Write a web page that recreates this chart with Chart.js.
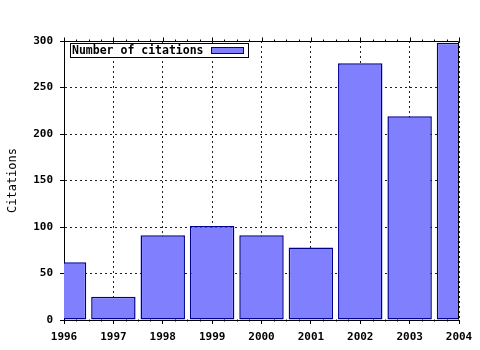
<!DOCTYPE html>
<html><head><meta charset="utf-8">
<script src="https://cdn.jsdelivr.net/npm/chart.js@4.4.1/dist/chart.umd.min.js"></script>
<style>html,body{margin:0;padding:0;background:#fff}</style>
</head><body>
<canvas id="c" width="480" height="350"></canvas>
<script>
const years = [1996, 1997, 1998, 1999, 2000, 2001, 2002, 2003, 2004];
const citations = [62, 25, 91, 101, 91, 78, 276, 219, 298];
const xTickLabels = ['1996', '1997', '1998', '1999', '2000', '2001', '2002', '2003', '2004'];
const yTickLabels = ['0', '50', '100', '150', '200', '250', '300'];
const seriesLabel = 'Number of citations';
const yTitle = 'Citations';

const FONT = '"DejaVu Sans Mono", "Liberation Mono", monospace';
const FILL = '#8080ff';
const EDGE = '#000090';

const framePlugin = {
  id: 'frame',
  afterDatasetsDraw(chart) {
    const ctx = chart.ctx, a = chart.chartArea, xs = chart.scales.x;
    ctx.save();
    ctx.strokeStyle = '#000';
    ctx.lineWidth = 1;
    ctx.setLineDash([]);
    ctx.beginPath();
    const L = Math.round(a.left) + 0.5, R = Math.round(a.right) - 0.5;
    const T = Math.round(a.top) + 0.5, B = Math.round(a.bottom) - 0.5;
    ctx.moveTo(L, T); ctx.lineTo(R, T); ctx.lineTo(R, B);
    for (let v = xs.min; v <= xs.max + 1e-9; v += 0.25) {
      const px = Math.round(xs.getPixelForValue(v)) + 0.5;
      const isMajor = Math.abs(v - Math.round(v)) < 1e-9;
      ctx.moveTo(px, T); ctx.lineTo(px, T - (isMajor ? 4 : 2));
      if (!isMajor) { ctx.moveTo(px, B); ctx.lineTo(px, B + 2); }
    }
    ctx.stroke();
    const ds = chart.data.datasets[0];
    ctx.font = 'bold 11.5px ' + FONT;
    ctx.fillStyle = '#fff';
    ctx.fillRect(70.5, 43.5, 178, 14);
    ctx.strokeRect(70.5, 43.5, 178, 14);
    ctx.fillStyle = '#000';
    ctx.textBaseline = 'middle';
    ctx.textAlign = 'left';
    ctx.fillText(ds.label, 72, 51);
    ctx.fillStyle = ds.backgroundColor;
    ctx.fillRect(211.5, 47.5, 32, 6);
    ctx.strokeStyle = ds.borderColor;
    ctx.strokeRect(211.5, 47.5, 32, 6);
    ctx.restore();
  }
};

new Chart(document.getElementById('c'), {
  type: 'bar',
  data: {
    datasets: [{
      label: seriesLabel,
      data: years.map((y, i) => ({ x: y, y: citations[i] })),
      backgroundColor: FILL,
      borderColor: EDGE,
      borderWidth: 1.5,
      borderSkipped: false,
      barPercentage: 0.9,
      categoryPercentage: 1.0
    }]
  },
  options: {
    responsive: false,
    animation: false,
    devicePixelRatio: 1,
    layout: { padding: { top: 41, right: 21, left: 0, bottom: 0 } },
    plugins: { legend: { display: false }, tooltip: { enabled: false } },
    scales: {
      x: {
        type: 'linear',
        min: 1996, max: 2004,
        offset: false,
        afterFit(s) { s.height = 30; },
        grid: {
          offset: false,
          color: '#222',
          tickColor: '#000',
          tickBorderDash: [],
          tickLength: 4
        },
        border: { display: true, color: '#000', width: 1, dash: [2, 3] },
        ticks: {
          stepSize: 1,
          autoSkip: false,
          maxRotation: 0,
          padding: 7,
          color: '#000',
          font: { family: FONT, size: 11, weight: 'bold' },
          callback: (v) => xTickLabels[years.indexOf(v)] ?? ''
        }
      },
      y: {
        min: 0, max: 300,
        afterFit(s) { s.width = 64; },
        grid: {
          color: '#222',
          tickColor: '#000',
          tickBorderDash: [],
          tickLength: 4
        },
        border: { display: true, color: '#000', width: 1, dash: [2, 3] },
        ticks: {
          stepSize: 50,
          padding: 7,
          color: '#000',
          font: { family: FONT, size: 11, weight: 'bold' },
          callback: (v) => yTickLabels[v / 50] ?? ''
        },
        title: {
          display: true,
          text: yTitle,
          color: '#000',
          padding: { top: 6, bottom: 0 },
          font: { family: FONT, size: 12, weight: 'normal' }
        }
      }
    }
  },
  plugins: [framePlugin]
});
</script>
</body></html>
